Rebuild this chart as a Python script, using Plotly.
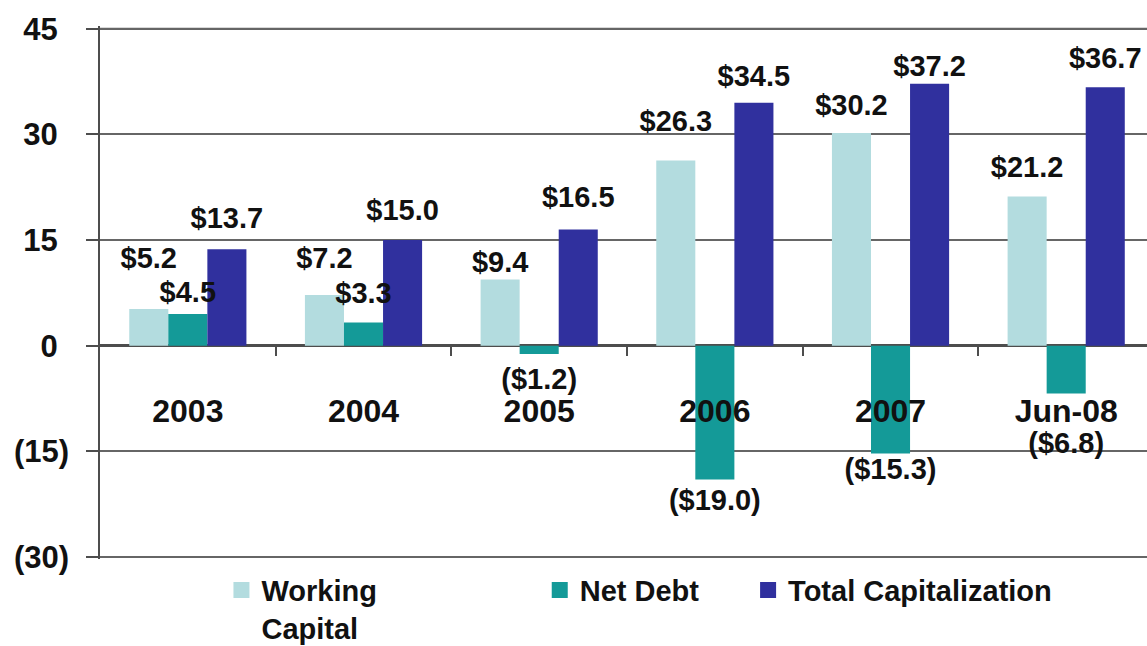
import plotly.graph_objects as go

# Balance-sheet summary, $ millions
categories = ["2003", "2004", "2005", "2006", "2007", "Jun-08"]
working_capital = [5.2, 7.2, 9.4, 26.3, 30.2, 21.2]
net_debt = [4.5, 3.3, -1.2, -19.0, -15.3, -6.8]
total_capitalization = [13.7, 15.0, 16.5, 34.5, 37.2, 36.7]

y_ticks = [45, 30, 15, 0, -15, -30]
y_range = [-30.3, 45.4]

FONT = "Liberation Sans"
TEXT_COLOR = "#111111"
AXIS_COLOR = "#4d4d4d"
GRID_COLOR = "#666666"
LABEL_SIZE = 29
BAR_GAP = 0.333

# pixel gap between each value label and the end of its bar
label_gap = {
    "wc": [41, 27, 7, 29, 18, 19],
    "nd": [12, 19, 14, 10, 5, 39],
    "tc": [21, 20, 22, 17, 7, 19],
}

series = [
    ("wc", "Working<br>Capital", working_capital, "#b3dcdf", "legend", 0.116),
    ("nd", "Net Debt", net_debt, "#149a98", "legend2", 0.420),
    ("tc", "Total Capitalization", total_capitalization, "#30309e", "legend3", 0.619),
]


def money(v):
    return f"${v:.1f}" if v >= 0 else f"(${-v:.1f})"


def axis_label(v):
    # positive labels leave room for the closing parenthesis
    return f"{v}\u00a0\u200a" if v >= 0 else f"({-v})"


def marker_size_for_gap(gap, positive):
    # plotly offsets point text by (size/2)/0.8 + 1 from the point
    extra = 1 + 0.25 * LABEL_SIZE if positive else 2
    return max(0.0, 1.6 * (gap - extra))


x_pos = list(range(len(categories)))
x_range = [-0.5, 5.46]

fig = go.Figure()
for key, name, values, color, _, _ in series:
    fig.add_trace(go.Bar(
        x=x_pos,
        y=values,
        name=name,
        marker=dict(color=color, line=dict(width=0)),
        showlegend=False,
        hoverinfo="skip",
    ))

# value labels, grouped the same way as the bars
for key, name, values, color, _, _ in series:
    fig.add_trace(go.Scatter(
        x=x_pos,
        y=values,
        mode="markers+text",
        text=[money(v) for v in values],
        textposition=["top center" if v >= 0 else "bottom center" for v in values],
        marker=dict(
            size=[marker_size_for_gap(g, v >= 0) for g, v in zip(label_gap[key], values)],
            opacity=0,
            color=color,
        ),
        textfont=dict(family=FONT, size=LABEL_SIZE, color=TEXT_COLOR, weight="bold"),
        cliponaxis=False,
        showlegend=False,
        hoverinfo="skip",
    ))

# legend keys on a hidden overlay so they stay out of the grouping
for key, name, values, color, legend_id, _ in series:
    fig.add_trace(go.Scatter(
        x=[None], y=[None],
        xaxis="x2", yaxis="y2",
        mode="markers",
        name=name,
        marker=dict(symbol="square", size=18, color=color),
        legend=legend_id,
        showlegend=True,
    ))

legend_style = dict(
    orientation="h",
    yanchor="top",
    xanchor="left",
    y=-0.0105,
    bgcolor="rgba(0,0,0,0)",
    font=dict(family=FONT, size=29, color=TEXT_COLOR, weight="bold"),
    valign="top",
    itemwidth=30,
)
legend_layout = {lid: dict(legend_style, x=lx) for _, _, _, _, lid, lx in series}

# horizontal rules at the top and bottom of the value range
frame_lines = [
    dict(type="line", xref="paper", yref="y", x0=0, x1=1, y0=v, y1=v,
         line=dict(color=GRID_COLOR, width=2), layer="above")
    for v in (max(y_ticks), min(y_ticks))
]

fig.update_layout(
    width=1147,
    height=646,
    margin=dict(l=100, r=0, t=26, b=87, autoexpand=False),
    paper_bgcolor="white",
    plot_bgcolor="white",
    barmode="group",
    bargap=BAR_GAP,
    bargroupgap=0,
    scattermode="group",
    scattergap=BAR_GAP,
    font=dict(family=FONT, color=TEXT_COLOR),
    shapes=frame_lines,
    **legend_layout,
    xaxis=dict(
        type="linear",
        range=x_range,
        tickmode="array",
        tickvals=x_pos,
        ticktext=categories,
        ticks="",
        showgrid=False,
        zeroline=False,
        showline=False,
        anchor="free",
        position=(0 - y_range[0]) / (y_range[1] - y_range[0]),
        ticklabelstandoff=43,
        tickfont=dict(family=FONT, size=32, color=TEXT_COLOR, weight="bold"),
        minor=dict(
            tickmode="array",
            tickvals=[i + 0.5 for i in x_pos[:-1]],
            ticks="outside",
            ticklen=9,
            tickwidth=1.5,
            tickcolor=AXIS_COLOR,
            showgrid=False,
        ),
    ),
    yaxis=dict(
        range=y_range,
        tickmode="array",
        tickvals=y_ticks,
        ticktext=[axis_label(v) for v in y_ticks],
        ticks="outside",
        ticklen=12,
        tickwidth=1.5,
        tickcolor=AXIS_COLOR,
        ticklabelstandoff=11,
        tickfont=dict(family=FONT, size=31, color=TEXT_COLOR, weight="bold"),
        showgrid=True,
        gridcolor=GRID_COLOR,
        gridwidth=2,
        zeroline=True,
        zerolinecolor=AXIS_COLOR,
        zerolinewidth=2.5,
        showline=True,
        linecolor=AXIS_COLOR,
        linewidth=1.5,
    ),
    xaxis2=dict(overlaying="x", range=x_range, visible=False),
    yaxis2=dict(overlaying="y", range=y_range, visible=False),
)

fig.write_html("out.html")
